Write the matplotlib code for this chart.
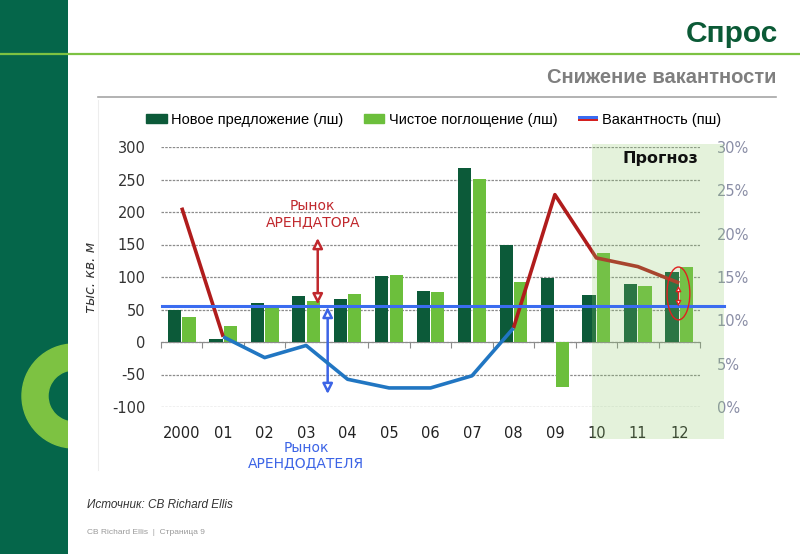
import numpy as np
import matplotlib
matplotlib.use('Agg')
import matplotlib.pyplot as plt
from matplotlib.patches import Rectangle, Ellipse, Wedge
from matplotlib.lines import Line2D
from matplotlib.legend_handler import HandlerBase

# ---- данные ----
years = ['2000', '01', '02', '03', '04', '05', '06', '07', '08', '09', '10', '11', '12']
new_supply = [50, 5, 60, 71, 66, 102, 78, 268, 150, 98, 72, 90, 107]
net_absorption = [39, 24, 57, 63, 74, 103, 77, 251, 93, -69, 137, 86, 115]
vacancy = [23.0, 8.1, 5.7, 7.1, 3.2, 2.2, 2.2, 3.6, 9.1, 24.5, 17.2, 16.2, 14.3]
vac_equil = 11.6
left_ticks = [-100, -50, 0, 50, 100, 150, 200, 250, 300]
right_ticks = [0, 5, 10, 15, 20, 25, 30]

DARK = '#0c5a39'
LIGHT = '#6cbf3c'
RED = '#b01c1c'
BLUE = '#2176c2'
BLUE2 = '#3b6cf0'

W, H = 800, 554
fig = plt.figure(figsize=(W / 100, H / 100), dpi=100)
fig.patch.set_facecolor('white')

def fx(px):
    return px / W

def fy(py):
    return 1 - py / H

# левая зеленая панель с кольцом
axp = fig.add_axes([0, 0, fx(68), 1])
axp.set_xlim(0, 68)
axp.set_ylim(H, 0)
axp.set_facecolor('#05664a')
for s in axp.spines.values():
    s.set_visible(False)
axp.set_xticks([])
axp.set_yticks([])
axp.add_patch(Wedge((74, 396), 52, 0, 360, width=26, color='#7dc242'))

# линии оформления
fig.add_artist(Line2D([0, 1], [fy(54), fy(54)], color='#7dc242', lw=1.6))
fig.add_artist(Line2D([fx(98), fx(776)], [fy(97), fy(97)], color='#a6a6a6', lw=1.2))
fig.add_artist(Line2D([fx(98), fx(98)], [fy(100), fy(470)], color='#ededed', lw=0.8))

fig.text(fx(778), fy(42), 'Спрос', ha='right', va='baseline', fontsize=21.5,
         fontweight='bold', color='#0b5a36', family='Liberation Sans')
fig.text(fx(776), fy(83), 'Снижение вакантности', ha='right', va='baseline', fontsize=14.5,
         fontweight='bold', color='#7f7f7f', family='Liberation Sans')
fig.text(fx(87), fy(505), 'Источник: CB Richard Ellis', ha='left', va='center', fontsize=8.5,
         style='italic', color='#333333', family='Liberation Sans')
fig.text(fx(87), fy(533), 'CB Richard Ellis  |  Страница 9', ha='left', va='center', fontsize=6,
         color='#9a9a9a', family='Liberation Sans')

# основной график
ax = fig.add_axes([fx(161), fy(407), fx(700) - fx(161), fy(147) - fy(407)])
x = np.arange(len(years))
ax.bar(x - 0.175, new_supply, width=0.32, color=DARK, zorder=2)
ax.bar(x + 0.175, net_absorption, width=0.32, color=LIGHT, zorder=2)
ax.set_xlim(-0.5, 12.5)
ax.set_ylim(-100, 300)
ax.set_yticks(left_ticks)
ax.set_yticklabels([str(v) for v in left_ticks])
ax.set_xticks(x)
ax.set_xticklabels(years)
for t in left_ticks:
    ax.axhline(t, color='#8c8c8c', lw=0.9, ls=(0, (2, 1)), zorder=1)
for s in ax.spines.values():
    s.set_visible(False)
ax.tick_params(axis='y', length=0, pad=11, labelsize=10.5, labelcolor='#333333')
ax.tick_params(axis='x', length=0, pad=14, labelsize=10.5, labelcolor='#222222')
ax.set_ylabel('тыс. кв. м', style='italic', fontsize=10, color='#333333', labelpad=10)

# ось x на уровне нуля с рисками между категориями
sec = ax.secondary_xaxis(0.25)
sec.set_xticks(np.arange(-0.5, 12.6, 1))
sec.set_xticklabels([])
sec.tick_params(direction='out', length=4, color='#8c8c8c')
sec.spines['bottom'].set_color('#8c8c8c')

# правая ось - вакантность
ax2 = ax.twinx()
ax2.set_ylim(0, 30)
ax2.set_yticks(right_ticks)
ax2.set_yticklabels([f'{v}%' for v in right_ticks])
for s in ax2.spines.values():
    s.set_visible(False)
ax2.tick_params(axis='y', length=0, pad=12, labelsize=10.5, labelcolor='#8a8ea6')

vac = np.array(vacancy, dtype=float)
red1 = np.full(len(vac), np.nan)
red1[[0, 1]] = vac[[0, 1]]
red1[8:] = vac[8:]
blue = np.full(len(vac), np.nan)
blue[1:9] = vac[1:9]
ax2.plot(x, red1, color=RED, lw=2.6, zorder=2, solid_capstyle='butt')
ax2.plot(x, blue, color=BLUE, lw=2.6, zorder=2, solid_capstyle='butt')

# прогнозная зона
ax2.add_patch(Rectangle((9.9, -3.7), 3.18, 34.1, facecolor='#8fcb6b', alpha=0.24,
                        edgecolor='none', zorder=3, clip_on=False))
ax2.text(11.54, 28.7, 'Прогноз', ha='center', va='center', fontsize=11.5,
         fontweight='bold', color='#111111', zorder=6)

ax2.plot([-0.48, 13.08], [vac_equil, vac_equil], color=BLUE2, lw=2.2, zorder=4, clip_on=False)

# стрелки и подписи
ax.annotate('', xy=(3.28, 160), xytext=(3.28, 58),
            arrowprops=dict(arrowstyle='<|-|>', color='#c0282d', lw=1.8, fc='white',
                            mutation_scale=15, shrinkA=0, shrinkB=0), zorder=5)
ax.annotate('', xy=(3.52, 54), xytext=(3.52, -80),
            arrowprops=dict(arrowstyle='<|-|>', color='#3c64e6', lw=1.8, fc='white',
                            mutation_scale=15, shrinkA=0, shrinkB=0), zorder=5)
ax.text(3.16, 197, 'Рынок\nАРЕНДАТОРА', ha='center', va='center', fontsize=10,
        color='#c0282d', linespacing=1.15, zorder=5)
ax.text(3.0, -174, 'Рынок\nАРЕНДОДАТЕЛЯ', ha='center', va='center', fontsize=10,
        color='#3c64e6', linespacing=1.1, zorder=5, clip_on=False)

ax2.annotate('', xy=(11.98, 14.0), xytext=(11.98, 11.6),
             arrowprops=dict(arrowstyle='<|-|>', color='#e02020', lw=1.0, fc='white',
                             mutation_scale=8, shrinkA=0, shrinkB=0), zorder=5)
ax2.add_patch(Ellipse((11.98, 13.1), 0.55, 6.1, fill=False, edgecolor='#e02020', lw=1.0, zorder=5))

# легенда
class HandlerTwoColor(HandlerBase):
    def create_artists(self, legend, orig_handle, xdescent, ydescent, width, height, fontsize, trans):
        h = height * 0.28
        y0 = height / 2 - ydescent
        top = Rectangle((-xdescent, y0), width, h, facecolor=BLUE2, edgecolor='none', transform=trans)
        bot = Rectangle((-xdescent, y0 - h), width, h, facecolor='#d42020', edgecolor='none', transform=trans)
        return [top, bot]

vac_handle = Line2D([], [])
handles = [Rectangle((0, 0), 1, 1, color=DARK), Rectangle((0, 0), 1, 1, color=LIGHT), vac_handle]
labels = ['Новое предложение (лш)', 'Чистое поглощение (лш)', 'Вакантность (пш)']
fig.legend(handles, labels, loc='center', bbox_to_anchor=(fx(434), fy(120)), ncol=3,
           frameon=False, handlelength=1.4, handleheight=0.6, handletextpad=0.3,
           columnspacing=1.4, prop={'family': 'Liberation Sans', 'size': 10.5},
           handler_map={vac_handle: HandlerTwoColor()})

fig.savefig('out.png', dpi=100)
